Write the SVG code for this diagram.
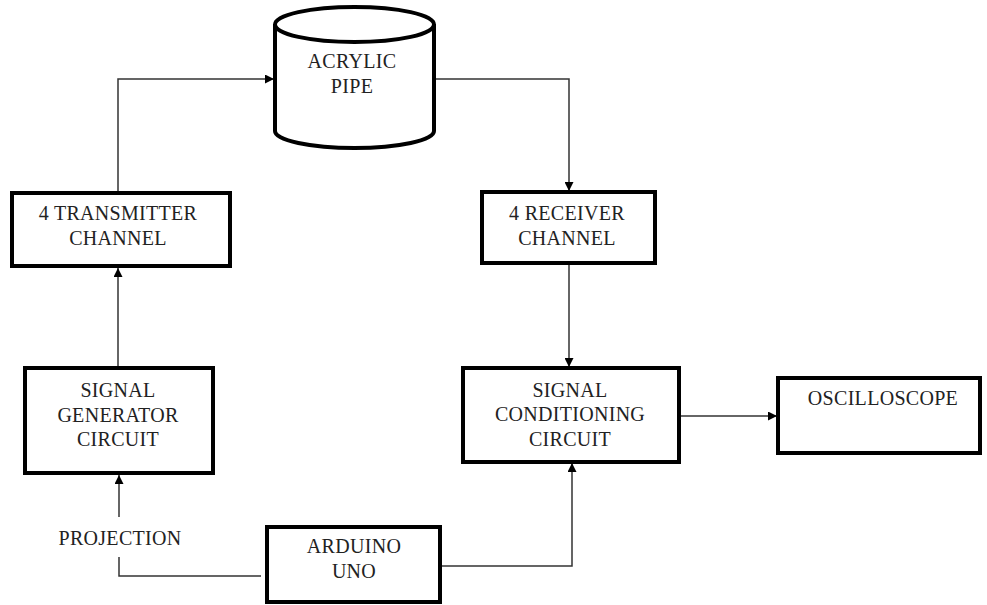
<svg xmlns="http://www.w3.org/2000/svg" width="987" height="605" viewBox="0 0 987 605">
<defs>
<style>
.box{fill:#fff;stroke:#000;stroke-width:4}
.lbl{font-size:20px;letter-spacing:0.3px;fill:#222;text-anchor:middle}
.con{fill:none;stroke:#333;stroke-width:1.5}
</style>
<marker id="ah" viewBox="0 0 10 10" refX="10" refY="5" markerWidth="9" markerHeight="9" markerUnits="userSpaceOnUse" orient="auto">
<path d="M0,0 L10,5 L0,10 z" fill="#000"/>
</marker>
</defs>
<rect width="987" height="605" fill="#fff"/>
<g id="connectors">
<polyline class="con" points="118,193 118,79 274,79" marker-end="url(#ah)"/>
<polyline class="con" points="434,79 569,79 569,191" marker-end="url(#ah)"/>
<line class="con" x1="118" y1="368" x2="118" y2="268" marker-end="url(#ah)"/>
<line class="con" x1="569" y1="263" x2="569" y2="367" marker-end="url(#ah)"/>
<line class="con" x1="679" y1="416" x2="777" y2="416" marker-end="url(#ah)"/>
<line class="con" x1="119" y1="517" x2="119" y2="475" marker-end="url(#ah)"/>
<polyline class="con" points="119,557 119,576 261,576"/>
<polyline class="con" points="440,566 572,566 572,463" marker-end="url(#ah)"/>
</g>
<g font-family="Liberation Serif">
<g id="acrylic-pipe">
<path class="box" d="M275,24 L275,131 A79.5,17 0 0 0 434,131 L434,24"/>
<ellipse class="box" cx="354.5" cy="24.5" rx="79.5" ry="17.5"/>
<text class="lbl" x="352" y="68" font-family="Liberation Serif">ACRYLIC</text>
<text class="lbl" x="352" y="93" font-family="Liberation Serif">PIPE</text>
</g>
<g id="transmitter">
<rect class="box" x="12" y="193" width="218" height="73"/>
<text class="lbl" x="118" y="220" font-family="Liberation Serif">4 TRANSMITTER</text>
<text class="lbl" x="118" y="245" font-family="Liberation Serif">CHANNEL</text>
</g>
<g id="receiver">
<rect class="box" x="482" y="192" width="173" height="71"/>
<text class="lbl" x="567" y="220" font-family="Liberation Serif">4 RECEIVER</text>
<text class="lbl" x="567" y="245" font-family="Liberation Serif">CHANNEL</text>
</g>
<g id="signal-generator">
<rect class="box" x="25" y="368" width="188" height="105"/>
<text class="lbl" x="118" y="397" font-family="Liberation Serif">SIGNAL</text>
<text class="lbl" x="118" y="422" font-family="Liberation Serif">GENERATOR</text>
<text class="lbl" x="118" y="446" font-family="Liberation Serif">CIRCUIT</text>
</g>
<g id="signal-conditioning">
<rect class="box" x="463" y="368" width="216" height="94"/>
<text class="lbl" x="570" y="397" font-family="Liberation Serif">SIGNAL</text>
<text class="lbl" x="570" y="421" font-family="Liberation Serif">CONDITIONING</text>
<text class="lbl" x="570" y="446" font-family="Liberation Serif">CIRCUIT</text>
</g>
<g id="oscilloscope">
<rect class="box" x="778" y="378" width="202" height="75"/>
<text class="lbl" x="883" y="405" font-family="Liberation Serif">OSCILLOSCOPE</text>
</g>
<g id="projection">
<text class="lbl" x="120" y="545" font-family="Liberation Serif">PROJECTION</text>
</g>
<g id="arduino">
<rect class="box" x="267" y="527" width="173" height="75"/>
<text class="lbl" x="354" y="553" font-family="Liberation Serif">ARDUINO</text>
<text class="lbl" x="354" y="578" font-family="Liberation Serif">UNO</text>
</g>
</g>
</svg>
